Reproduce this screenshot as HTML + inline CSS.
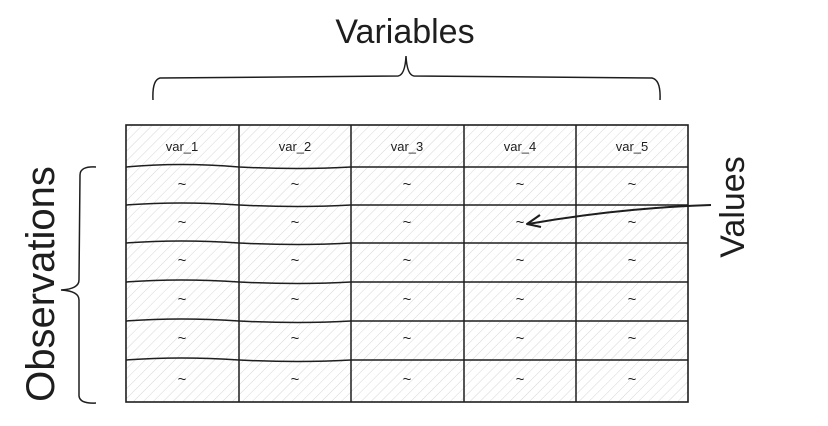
<!DOCTYPE html>
<html><head><meta charset="utf-8"><style>
html,body{margin:0;padding:0;background:#fff;}
svg{display:block;}
text{font-family:"Liberation Sans",sans-serif;fill:#1e1e1e;}
</style></head><body>
<svg width="828" height="426" viewBox="0 0 828 426" xmlns="http://www.w3.org/2000/svg">
<defs>
<pattern id="h" width="7" height="7" patternUnits="userSpaceOnUse" patternTransform="rotate(45)">
<line x1="0" y1="0" x2="0" y2="7" stroke="#d6d6d6" stroke-width="1"/>
</pattern>
</defs>
<text x="405" y="43" font-size="34" text-anchor="middle">Variables</text>
<path d="M153 100 Q152 80 160 78 L398 76 Q405 75 406 56 Q407 75 414 76 L652 78 Q661 80 660 100" fill="none" stroke="#1e1e1e" stroke-width="1.5"/>
<g>
<rect x="126" y="125" width="562" height="277" fill="url(#h)" stroke="#1e1e1e" stroke-width="1.6"/>
<g stroke="#1e1e1e" stroke-width="1.5" fill="none">
<path d="M239 125 L239 402 M351 125 L351 402 M464 125 L464 402 M576 125 L576 402"/>
<path d="M126 167 Q180 162 239 167 Q300 170 351 167 L688 167"/>
<path d="M126 205 Q180 201 239 205 Q300 208 351 205 L688 205"/>
<path d="M126 243 Q180 239 239 243 Q300 246 351 243 L688 243"/>
<path d="M126 282 Q180 278 239 282 Q300 285 351 282 L688 282"/>
<path d="M126 321 Q180 317 239 321 Q300 324 351 321 L688 321"/>
<path d="M126 360 Q180 356 239 360 Q300 363 351 360 L688 360"/>
</g>
<g font-size="13" text-anchor="middle">
<text x="182" y="151">var_1</text><text x="295" y="151">var_2</text><text x="407" y="151">var_3</text><text x="520" y="151">var_4</text><text x="632" y="151">var_5</text>
</g>
<g font-size="15" text-anchor="middle">
<text x="182" y="189">~</text><text x="295" y="189">~</text><text x="407" y="189">~</text><text x="520" y="189">~</text><text x="632" y="189">~</text>
<text x="182" y="227">~</text><text x="295" y="227">~</text><text x="407" y="227">~</text><text x="520" y="227">~</text><text x="632" y="227">~</text>
<text x="182" y="265">~</text><text x="295" y="265">~</text><text x="407" y="265">~</text><text x="520" y="265">~</text><text x="632" y="265">~</text>
<text x="182" y="304">~</text><text x="295" y="304">~</text><text x="407" y="304">~</text><text x="520" y="304">~</text><text x="632" y="304">~</text>
<text x="182" y="343">~</text><text x="295" y="343">~</text><text x="407" y="343">~</text><text x="520" y="343">~</text><text x="632" y="343">~</text>
<text x="182" y="384">~</text><text x="295" y="384">~</text><text x="407" y="384">~</text><text x="520" y="384">~</text><text x="632" y="384">~</text>
</g>
</g>
<path d="M96 167 Q80 166 80 175 L79 280 Q79 289 61 290 Q79 291 79 300 L79 396 Q80 404 96 403" fill="none" stroke="#1e1e1e" stroke-width="1.5"/>
<text transform="translate(54 284) rotate(-90)" font-size="40" text-anchor="middle">Observations</text>
<text transform="translate(744 207) rotate(-90)" font-size="34" text-anchor="middle">Values</text>
<path d="M711 205 Q620 208 528 224" fill="none" stroke="#1e1e1e" stroke-width="2"/>
<path d="M540 215 L527 224 L541 227" fill="none" stroke="#1e1e1e" stroke-width="2" stroke-linejoin="round"/>
</svg>
</body></html>
